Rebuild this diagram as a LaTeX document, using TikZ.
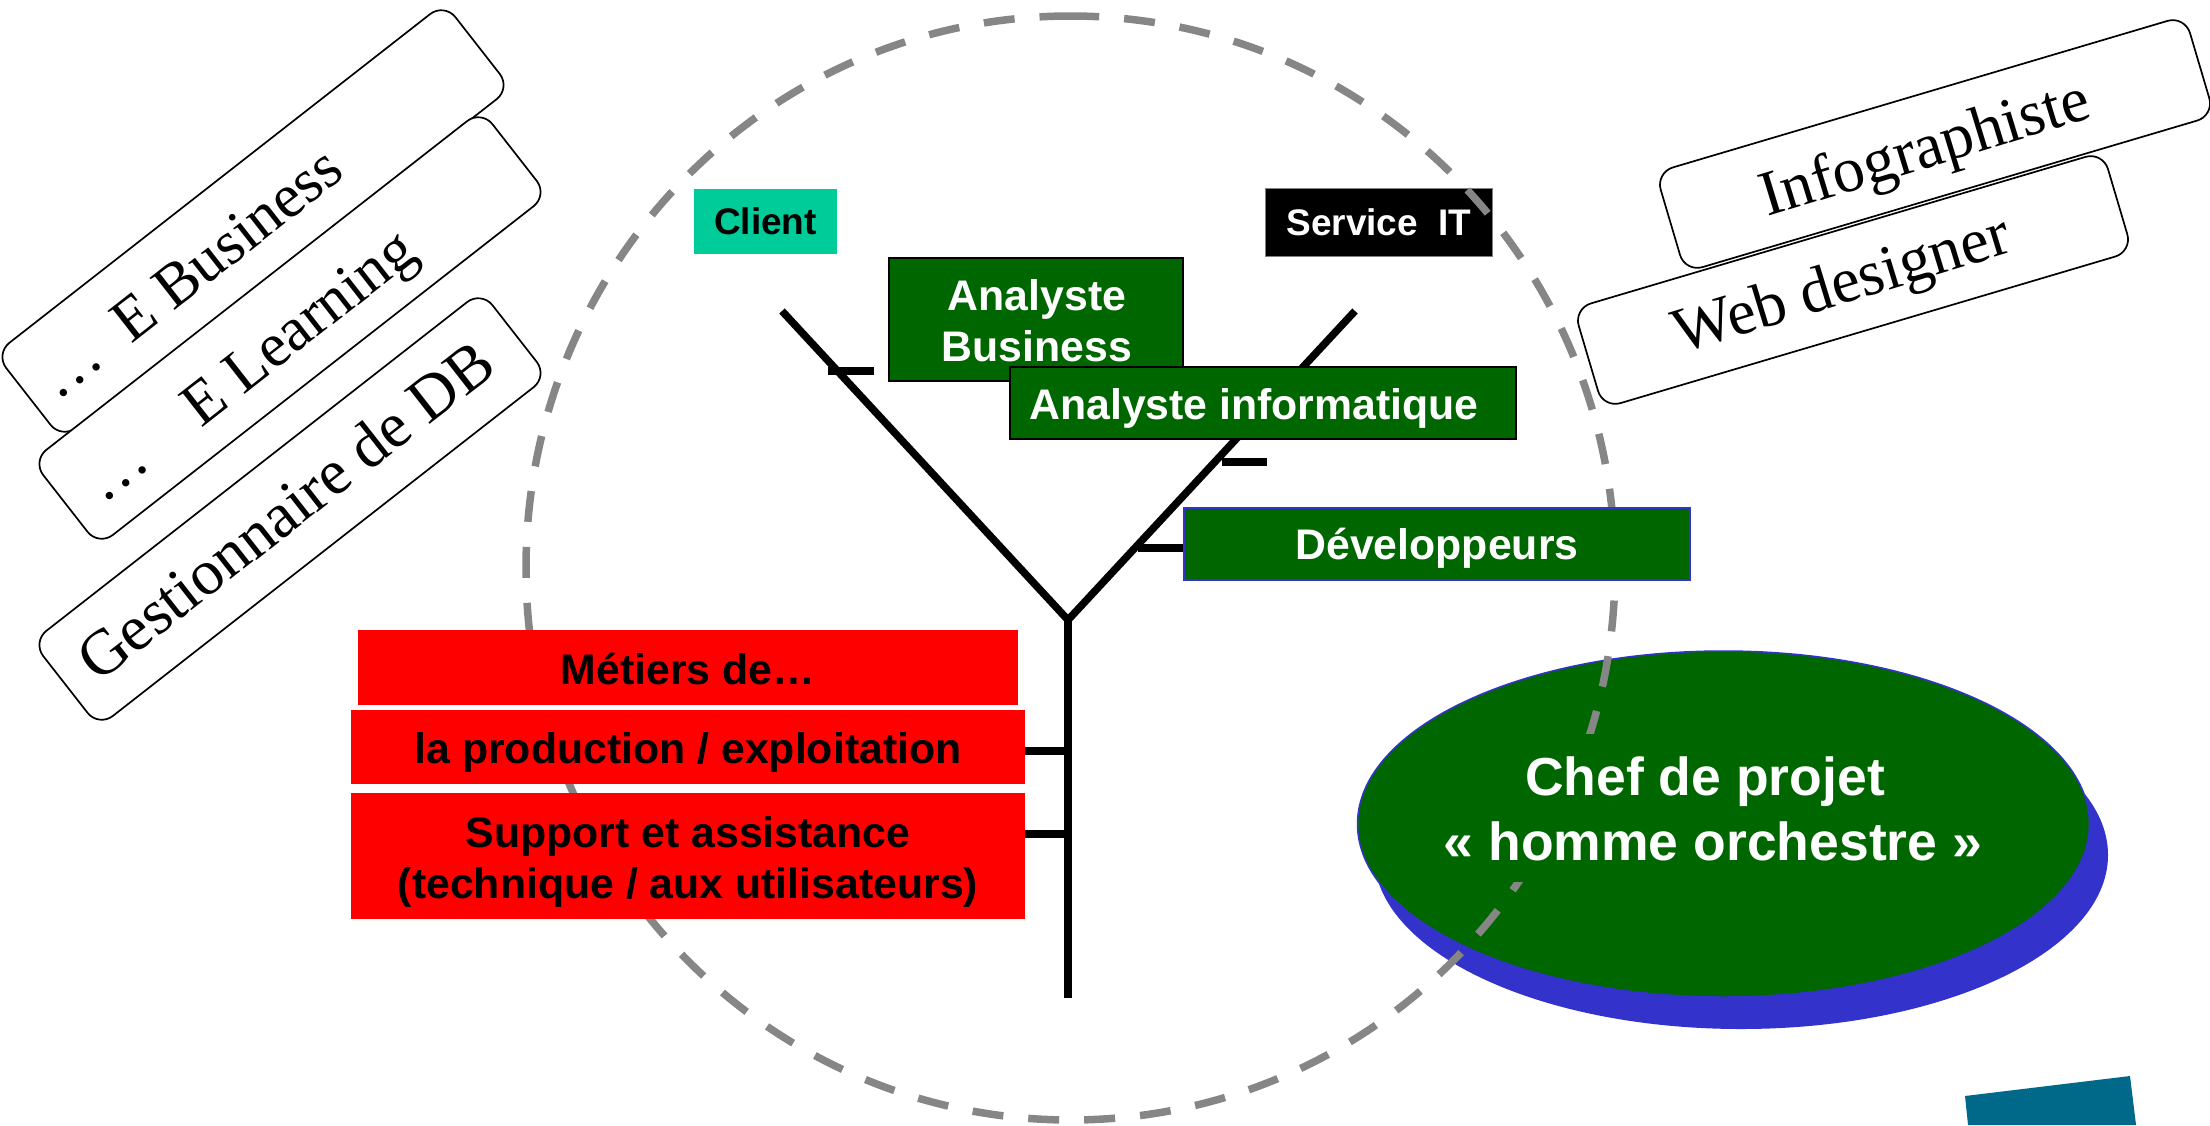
\documentclass[tikz,border=0pt]{standalone}
\usepackage{fontspec}
\setmainfont{Liberation Serif}
\setsansfont{Liberation Sans}
\usetikzlibrary{shapes.geometric}
\definecolor{darkgreen}{RGB}{0,102,0}
\definecolor{clientgreen}{RGB}{0,204,153}
\definecolor{ovalblue}{RGB}{51,51,204}
\definecolor{dashgray}{RGB}{134,134,134}
\definecolor{tealbox}{RGB}{0,104,136}
\tikzset{
  tag/.style={draw=black,line width=1.7pt,fill=white,rounded corners=18pt,minimum width=570pt,minimum height=108pt,inner sep=0pt},
  tagwide/.style={tag,minimum width=552pt,minimum height=104pt},
  tagtext/.style={font=\fontsize{62}{70}\selectfont,inner sep=0pt},
  tagtextb/.style={font=\fontsize{64}{70}\selectfont,inner sep=0pt},
  boxsmall/.style={font=\sffamily\bfseries\fontsize{37}{44}\selectfont,inner sep=0pt,align=center},
  greenbox/.style={fill=darkgreen,draw=black,line width=2pt,inner sep=0pt},
  redbox/.style={fill=red,inner sep=0pt},
  boxlabel/.style={inner sep=0pt,align=center,font=\sffamily\bfseries\fontsize{42.8}{51}\selectfont},
  trunk/.style={line width=7.5pt,black},
  tick/.style={line width=8pt,black},
  ringline/.style={draw=dashgray,line width=7.5pt,dash pattern=on 31pt off 25.01pt},
  ovaltext/.style={text=white,inner sep=0pt,font=\sffamily\bfseries\fontsize{53.5}{60}\selectfont}
}
\begin{document}
\begin{tikzpicture}[x=1pt,y=-1pt]
\useasboundingbox (0,0) rectangle (2210,1125);
% teal corner
\fill[tealbox] (1965,1096) -- (2130,1076) -- (2136,1125) -- (1968,1125) -- cycle;
% tree
\coordinate (yl) at (782,311);
\coordinate (yr) at (1355,311);
\coordinate (yj) at (1068,620);
\coordinate (yb) at (1068,998);
\draw[trunk] (yl) -- (yj) -- (yr);
\draw[trunk] (yj) -- (yb);
\coordinate (t1a) at (828,371); \coordinate (t1b) at (874,371);
\coordinate (t2a) at (1222,462); \coordinate (t2b) at (1267,462);
\draw[tick] (t1a) -- (t1b);
\draw[tick] (t2a) -- (t2b);
% top boxes
\node[boxsmall,fill=clientgreen,minimum width=143pt,minimum height=65pt] (client) at (765.5,221.5) {Client};
\node[boxsmall,fill=black,draw=gray,line width=1pt,text=white,minimum width=227pt,minimum height=68pt] (service) at (1379,222.5) {Service~~IT};
% oval
\node[ellipse,fill=ovalblue,minimum width=734pt,minimum height=348pt,inner sep=0pt] (shadow) at (1741,855) {};
\node[ellipse,fill=darkgreen,draw=ovalblue,line width=1.5pt,minimum width=732pt,minimum height=346pt,inner sep=0pt] (oval) at (1723.5,824) {};
% dashed circle, starting at its top and running anticlockwise
\draw[ringline] (1070.5,16) arc[start angle=90,end angle=450,x radius=544.5pt,y radius=552pt];
% text box over the oval
\fill[darkgreen] (1430,734) rectangle (2010,882);
\node[ovaltext] (chef) at (1705,782) {Chef de projet};
\node[ovaltext] (homme) at (1713,841) {« homme orchestre »};
% green boxes
\node[greenbox,minimum width=294pt,minimum height=123pt] (ab) at (1036,319.5) {};
\node[boxlabel,text=white] (abt) at ([xshift=1pt,yshift=-1.5pt]ab.center) {Analyste\\Business};
\node[greenbox,minimum width=506pt,minimum height=72pt] (ai) at (1263,403) {};
\node[boxlabel,text=white] (ait) at ([xshift=-9pt,yshift=-5.5pt]ai.center) {Analyste informatique};
\node[greenbox,draw=ovalblue,minimum width=506pt,minimum height=72pt] (dev) at (1437,544) {};
\node[boxlabel,text=white] (devt) at ([yshift=-4pt]dev.center) {Développeurs};
\coordinate (t3) at (1138,548);
\draw[tick] (t3) -- (t3 -| dev.west);
% red boxes
\node[redbox,minimum width=660pt,minimum height=75pt] (metiers) at (688,667.5) {};
\node[boxlabel] (metierst) at ([yshift=-1.5pt]metiers.center) {Métiers de…};
\node[redbox,minimum width=674pt,minimum height=74pt] (prod) at (688,747) {};
\node[boxlabel] (prodt) at ([yshift=-5.5pt]prod.center) {la production / exploitation};
\node[redbox,minimum width=674pt,minimum height=126pt] (supp) at (688,856) {};
\node[boxlabel] (suppt) at ([yshift=-5.5pt]supp.center) {Support et assistance\\(technique / aux utilisateurs)};
\draw[tick] (prod.east |- 0,751) -- (yb |- 0,751);
\draw[tick] (supp.east |- 0,834) -- (yb |- 0,834);
% left tags
\node[tag,rotate=38] (ebus) at (253,221) {};
\node[tag,rotate=38] (elearn) at (290,328) {};
\node[tag,rotate=38] (gest) at (290,509) {};
\node[tagtext,rotate=38] (ebust) at (190,273) {…~~E Business};
\node[tagtext,rotate=38] (elearnt) at (253,370) {…~~~~E Learning};
\node[tagtextb,rotate=38] (gestt) at (285,510) {Gestionnaire de DB};
% right tags
\node[tagwide,rotate=16.5] (info) at (1935,144) {};
\node[tagwide,rotate=16.5] (web) at (1853,280) {};
\node[tagtextb,rotate=17] (infot) at (1926,152) {Infographiste};
\node[tagtextb,rotate=17] (webt) at (1843,288) {Web designer};
\end{tikzpicture}
\end{document}
